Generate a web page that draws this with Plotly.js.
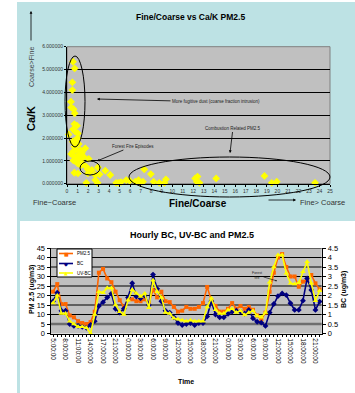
<!DOCTYPE html>
<html><head><meta charset="utf-8">
<script src="https://cdn.plot.ly/plotly-3.0.1.min.js"></script>
<style>html,body{margin:0;padding:0;background:#fff;}#chart{width:355px;height:393px;}</style>
</head><body><div id="chart"></div>
<script>
// ---- Top chart data: Fine/Coarse ratio vs Ca/K ratio (PM2.5)
const fineCoarse = [0.57,0.73,0.51,0.51,0.38,0.41,0.63,0.73,0.70,0.95,0.16,0.57,0.79,1.04,0.54,0.79,1.01,0.70,1.11,0.57,0.89,1.27,0.70,1.14,1.42,1.74,0.79,1.27,1.58,2.06,1.01,1.52,1.84,0.70,1.04,1.96,2.22,2.37,1.99,2.94,2.69,3.10,3.64,4.11,1.84,2.91,2.69,4.68,4.91,5.13,5.63,5.95,6.49,6.80,6.96,7.22,7.34,7.97,8.23,8.77,9.27,9.40,12.18,12.41,12.34,12.59,14.18,18.77,19.46,19.94,23.58,0.40,0.60,1.30,0.90];
const caK = [5.34,5.05,4.44,4.10,3.59,3.34,3.26,3.08,2.61,2.54,2.16,2.38,2.28,2.20,1.84,1.91,1.99,1.62,1.74,1.40,1.47,1.47,1.21,1.26,1.36,1.55,0.99,1.07,1.18,1.09,0.89,0.86,0.74,0.48,0.45,0.63,0.55,0.60,0.45,0.72,0.38,0.41,0.57,0.38,0.04,0.04,0.16,0.04,0.04,0.07,0.16,0.13,0.09,0.16,0.04,0.09,0.63,0.42,0.09,0.04,0.04,0.19,0.23,0.31,0.09,0.04,0.23,0.34,0.04,0.09,0.04,1.30,1.02,0.80,1.15];

// ---- Bottom chart data: hourly series
const times = ["5:00:00","6:00:00","7:00:00","8:00:00","9:00:00","10:00:00","11:00:00","12:00:00","13:00:00","14:00:00","15:00:00","16:00:00","17:00:00","18:00:00","20:00:00","21:00:00","22:00:00","23:00:00",
"0:00:00","1:00:00","2:00:00","3:00:00","4:00:00","5:00:00","6:00:00","7:00:00","8:00:00","9:00:00","10:00:00","11:00:00","12:00:00","13:00:00","14:00:00","15:00:00","16:00:00","17:00:00","18:00:00","19:00:00","20:00:00","21:00:00","22:00:00","23:00:00",
"0:00:00","1:00:00","2:00:00","3:00:00","4:00:00","5:00:00","6:00:00","7:00:00","8:00:00","9:00:00","10:00:00","11:00:00","12:00:00","13:00:00","14:00:00","15:00:00","16:00:00","17:00:00","18:00:00","19:00:00","20:00:00","21:00:00","22:00:00"];
const pm25 = [22,26,15.5,15.5,9.5,8.5,6.5,5.5,5,6, 11.5,32,34,29,27,22,17.5,14,18,18, 17,17,18,16,23,19,22,17,16.5,14, 11.5,12,14,13,13,14,16,24.5,17.5,14.5, 11.5,11.5,13,16,13,14.5,13,14,12.5,9.5, 7.5,11,22,32,40,41.8,35,30,30,24.6, 27.3,28,30.8,26.4,23.2];
const bc = [1.7,2.15,1.2,1.2,0.5,0.4,0.4,0.35,0.3,0.45, 0.65,1.45,1.65,1.9,2.1,1.3,1.1,1.3,1.9,2.65, 1.95,1.85,2.0,1.5,3.1,2.35,1.7,1.2,1.1,0.85, 0.55,0.45,0.5,0.55,0.45,0.55,0.55,0.9,1.7,1.0, 0.85,0.85,1.03,1.15,1.2,1.15,1.05,1.24,0.8,0.62, 0.57,0.4,1.1,1.55,1.97,2.11,2.02,1.59,1.24,1.24, 1.73,2.9,2.29,1.24,1.68];
const uvbc = [1.6,2.0,1.05,1.05,0.65,0.5,0.35,0.35,0.3,0.0, 1.0,2.2,2.15,2.4,2.4,1.5,1.15,1.0,1.75,2.3, 2.1,1.95,2.1,1.35,2.8,2.2,1.9,1.1,1.05,0.8, 0.75,0.7,0.65,0.7,0.65,0.65,0.65,1.4,1.85,1.25, 1.05,1.05,1.24,1.3,1.1,1.2,0.97,1.1,1.2,0.92, 0.85,1.1,2.7,3.5,4.13,4.13,3.17,2.64,2.6,2.67, 3.25,3.78,2.64,1.73,2.25];
const seriesNames = ["PM2.5","BC","UV-BC"];
const pmGridVals = [5,10,15,20,25,30,35,40,45];

const W = 355, H = 393;
const px = x => x / W, py = y => 1 - y / H;
const idx = times.map((t, i) => i);
const tickText = times.map((t, i) => (i % 3 === 0 ? t : ''));
const FONT = 'Liberation Sans, Arial, sans-serif';
const ORANGE = '#ff6600', NAVY = '#000080', YELLOW = '#ffff00';

const traces = [
  {type:'scatter', mode:'markers', x:fineCoarse, y:caK, xaxis:'x', yaxis:'y',
   marker:{symbol:'diamond', size:6, color:YELLOW}, showlegend:false, cliponaxis:false, hoverinfo:'skip'},
  {type:'scatter', mode:'lines+markers', name:seriesNames[0], x:idx, y:pm25, xaxis:'x2', yaxis:'y2',
   line:{color:ORANGE, width:1.6}, marker:{symbol:'square', size:4, color:ORANGE}, showlegend:false, cliponaxis:false},
  {type:'scatter', mode:'lines+markers', name:seriesNames[1], x:idx, y:bc, xaxis:'x2', yaxis:'y3',
   line:{color:NAVY, width:1.6}, marker:{symbol:'diamond', size:4.5, color:NAVY}, showlegend:false, cliponaxis:false},
  {type:'scatter', mode:'lines+markers', name:seriesNames[2], x:idx, y:uvbc, xaxis:'x2', yaxis:'y3',
   line:{color:YELLOW, width:1.6}, marker:{symbol:'triangle-up', size:5, color:YELLOW}, showlegend:false, cliponaxis:false}
];

function pline(x0,y0,x1,y1,color,width,layer){
  return {type:'line', xref:'paper', yref:'paper', x0:px(x0), y0:py(y0), x1:px(x1), y1:py(y1), line:{color:color, width:width}, layer:layer||'above'};
}
function prect(x0,y0,x1,y1,fill,lineColor,layer){
  return {type:'rect', xref:'paper', yref:'paper', x0:px(x0), y0:py(y0), x1:px(x1), y1:py(y1), fillcolor:fill, line:{color:lineColor||'rgba(0,0,0,0)', width:lineColor?1:0}, layer:layer||'below'};
}
function pellipse(x0,y0,x1,y1){
  return {type:'circle', xref:'paper', yref:'paper', x0:px(x0), y0:py(y0), x1:px(x1), y1:py(y1), line:{color:'#000', width:1}, fillcolor:'rgba(0,0,0,0)', layer:'above'};
}

const shapes = [
  prect(17, 2, 355, 221, '#bde2e4'),
  prect(17, 221, 20, 393, '#bde2e4'),
  prect(67, 46.7, 330, 183.7, '#c0c0c0', '#808080'),
  prect(51, 248, 321.7, 333.5, '#c0c0c0')
];
pmGridVals.forEach(v => {
  shapes.push({type:'line', xref:'x2 domain', yref:'y2', x0:0, x1:1, y0:v, y1:v,
    line:{color: v === 5 ? '#6e6e6e' : '#000', width: v === 5 ? 2.5 : 1}, layer:'below'});
});
shapes.push(
  pellipse(65, 56, 85, 147),
  pellipse(80, 161, 100, 175),
  pellipse(129, 157, 330, 197),
  prect(57, 249, 92, 277, '#ffffff', '#000000', 'above'),
  pline(59, 253.5, 73, 253.5, ORANGE, 1.6),
  pline(59, 263.5, 73, 263.5, NAVY, 1.6),
  pline(59, 273, 73, 273, YELLOW, 1.6)
);

function ann(text, x, y, size, opts){
  return Object.assign({text:text, xref:'paper', yref:'paper', x:px(x), y:py(y), showarrow:false,
    font:{size:size, family:FONT, color:'#000'}, xanchor:'center', yanchor:'middle'}, opts||{});
}
function arrowAnn(text, x, y, ax, ay, size, opts){
  return Object.assign({text:text, xref:'paper', yref:'paper', x:px(x), y:py(y), showarrow:true,
    ax:ax, ay:ay, arrowhead:2, arrowsize:0.7, arrowwidth:0.8, arrowcolor:'#000',
    font:{size:size, family:FONT, color:'#222'}}, opts||{});
}

const annotations = [
  ann('<b>Fine/Coarse vs Ca/K PM2.5</b>', 191, 17, 8.5),
  ann('<b>Ca/K</b>', 31, 118, 11, {textangle:-90}),
  ann('Coarse>Fine', 31, 67, 7, {textangle:-90, font:{size:7, family:FONT, color:'#444'}}),
  {text:'', xref:'paper', yref:'paper', x:px(31), y:py(11), axref:'paper', ayref:'paper', ax:px(31), ay:py(42),
   showarrow:true, arrowhead:2, arrowsize:0.7, arrowwidth:0.8, arrowcolor:'#000'},
  ann('<b>Fine/Coarse</b>', 198, 203, 10),
  ann('Fine~Coarse', 55, 202, 7.5, {font:{size:7.5, family:FONT, color:'#333'}}),
  ann('Fine> Coarse', 322, 202, 7.5, {font:{size:7.5, family:FONT, color:'#333'}}),
  {text:'', xref:'paper', yref:'paper', x:px(296), y:py(200), axref:'paper', ayref:'paper', ax:px(267), ay:py(200),
   showarrow:true, arrowhead:2, arrowsize:0.7, arrowwidth:0.8, arrowcolor:'#000'},
  arrowAnn('More fugitive dust (coarse fraction intrusion)', 97, 99, 119, 3, 4.5),
  arrowAnn('Combustion Related PM2.5', 230, 153, 3, -25, 4.5),
  arrowAnn('Forest Fire Episodes', 97, 161, 36, -15, 4.5),
  // bottom chart
  ann('<b>Hourly BC, UV-BC and PM2.5</b>', 192, 235, 9),
  ann('<b>PM 2.5 (ug/m3)</b>', 32, 290, 7, {textangle:-90}),
  ann('<b>BC (ug/m3)</b>', 344, 290, 7, {textangle:-90}),
  ann('<b>Time</b>', 186, 381, 7),
  arrowAnn('Forest<br>fire', 277, 281, -20, -6, 3.5, {arrowsize:0.5, arrowwidth:0.6}),
  // legend markers + labels
  ann('■', 66, 253.5, 5, {font:{size:5, family:'DejaVu Sans', color:ORANGE}}),
  ann('◆', 66, 263.5, 5, {font:{size:5, family:'DejaVu Sans', color:NAVY}}),
  ann('▲', 66, 273, 5, {font:{size:5, family:'DejaVu Sans', color:YELLOW}}),
  ann(seriesNames[0], 75, 253.5, 4.5, {xanchor:'left'}),
  ann(seriesNames[1], 75, 263.5, 4.5, {xanchor:'left'}),
  ann(seriesNames[2], 75, 273, 4.5, {xanchor:'left'})
];

const layout = {
  width:W, height:H, margin:{l:0, r:0, t:0, b:0}, paper_bgcolor:'#ffffff', plot_bgcolor:'rgba(0,0,0,0)',
  font:{family:FONT, color:'#000'}, showlegend:false,
  xaxis:{domain:[px(67), px(330)], range:[0,25], tickmode:'linear', tick0:0, dtick:1, showgrid:false, zeroline:false,
    showline:true, linecolor:'#000', linewidth:1, ticks:'outside', ticklen:2, tickcolor:'#000',
    tickfont:{size:5, color:'#333'}, anchor:'y', fixedrange:true},
  yaxis:{domain:[py(183.7), py(46.7)], range:[0,6], tickmode:'linear', tick0:0, dtick:1, tickformat:'.6f',
    showgrid:true, gridcolor:'#000', gridwidth:1, zeroline:false, showline:true, linecolor:'#000',
    ticks:'outside', ticklen:2, tickcolor:'#000', tickfont:{size:5, color:'#333'}, anchor:'x', fixedrange:true},
  xaxis2:{domain:[px(51), px(321.7)], range:[-0.5,64.5], tickmode:'array', tickvals:idx, ticktext:tickText,
    tickangle:90, tickfont:{size:6.5}, ticks:'outside', ticklen:2, tickcolor:'#000', showgrid:false,
    zeroline:false, showline:true, linecolor:'#000', linewidth:1.5, anchor:'y2', fixedrange:true},
  yaxis2:{domain:[py(333.5), py(248)], range:[0,45], tickmode:'linear', tick0:0, dtick:5, showgrid:false,
    zeroline:false, showline:true, linecolor:'#000', linewidth:1.5,
    ticks:'outside', ticklen:3, tickcolor:'#000', tickfont:{size:7.5}, anchor:'x2', fixedrange:true},
  yaxis3:{overlaying:'y2', side:'right', anchor:'x2', range:[0,4.5], tickmode:'linear', tick0:0, dtick:0.5,
    showgrid:false, zeroline:false, showline:true, linecolor:'#000', linewidth:1.5, ticks:'outside',
    ticklen:3, tickcolor:'#000', tickfont:{size:7.5}, fixedrange:true},
  shapes:shapes, annotations:annotations
};

Plotly.newPlot('chart', traces, layout, {displayModeBar:false, staticPlot:true});
</script>
</body></html>
